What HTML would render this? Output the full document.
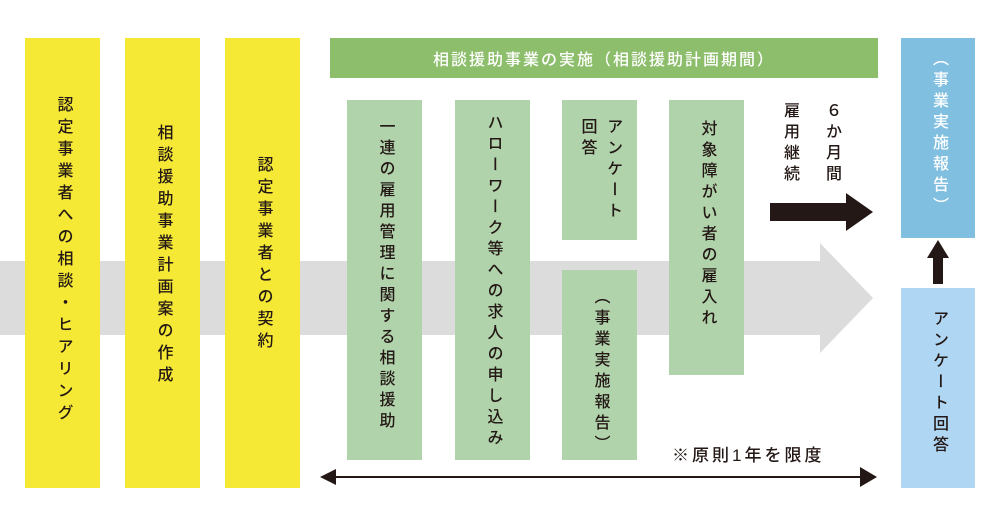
<!DOCTYPE html>
<html><head><meta charset="utf-8"><style>
body{margin:0;width:1000px;height:524px;background:#fff;position:relative;overflow:hidden;font-family:"Liberation Sans","Noto Sans CJK JP",sans-serif;color:#231815}
.b{position:absolute;display:flex;justify-content:center;align-items:flex-start}
.v{writing-mode:vertical-rl;text-orientation:upright;font-size:16px;letter-spacing:5px;font-weight:500;line-height:1;white-space:nowrap}
.y{background:#f5e935}.g{background:#b1d3ab}
</style></head><body>
<svg style="position:absolute;left:0;top:0" width="1000" height="524">
<polygon points="0,261 820,261 820,243 873,298 820,353 820,335 0,335" fill="#dcdcdc"/>
<rect x="770" y="203" width="80" height="18" fill="#231815"/>
<polygon points="846,193 873,212 846,231" fill="#231815"/>
<rect x="933" y="256" width="10" height="28" fill="#231815"/>
<polygon points="927,258 938,240 949,258" fill="#231815"/>
<line x1="332" y1="477" x2="862" y2="477" stroke="#231815" stroke-width="2"/>
<polygon points="320,477 336,469 336,485" fill="#231815"/>
<polygon points="877,477 860,467 860,487" fill="#231815"/>
</svg>
<div class="b y" style="left:25px;top:38px;width:75px;height:450px"><div class="v" style="margin-top:58px;letter-spacing:6px">認定事業者への相談・ヒアリング</div></div>
<div class="b y" style="left:125px;top:38px;width:75px;height:450px"><div class="v" style="margin-top:86px;letter-spacing:6px">相談援助事業計画案の作成</div></div>
<div class="b y" style="left:225px;top:38px;width:75px;height:450px"><div class="v" style="margin-top:118px;letter-spacing:6px">認定事業者との契約</div></div>
<div class="b" style="left:330px;top:38px;width:548px;height:40px;background:#8dbe6c;color:#fff;font-size:16px;font-weight:500;letter-spacing:2px;align-items:center">相談援助事業の実施（相談援助計画期間）</div>
<div class="b g" style="left:347px;top:100px;width:75px;height:360px"><div class="v" style="margin-top:18px">一連の雇用管理に関する相談援助</div></div>
<div class="b g" style="left:455px;top:100px;width:75px;height:360px"><div class="v" style="margin-top:14px;letter-spacing:5px">ハローワーク等への求人の申し込み</div></div>
<div class="b g" style="left:562px;top:100px;width:75px;height:140px"><div class="v" style="margin-top:18px;line-height:1.6;white-space:normal">アンケート<br>回答</div></div>
<div class="b g" style="left:562px;top:270px;width:75px;height:190px"><div class="v" style="margin-top:18px">（事業実施報告）</div></div>
<div class="b g" style="left:669px;top:100px;width:75px;height:275px"><div class="v" style="margin-top:20px">対象障がい者の雇入れ</div></div>
<div class="v" style="position:absolute;left:781px;top:102px;letter-spacing:5px">雇用継続</div>
<div class="v" style="position:absolute;left:823px;top:102px;letter-spacing:5px">６か月間</div>
<div class="b" style="left:901px;top:38px;width:74px;height:200px;background:#80bfe0;color:#fff"><div class="v" style="margin-top:12px">（事業実施報告）</div></div>
<div class="b" style="left:901px;top:288px;width:74px;height:200px;background:#afd6f2"><div class="v" style="margin-top:22px">アンケート回答</div></div>
<div style="position:absolute;left:672px;top:441px;font-size:17px;letter-spacing:3px;font-weight:500">※原則1年を限度</div>
</body></html>
